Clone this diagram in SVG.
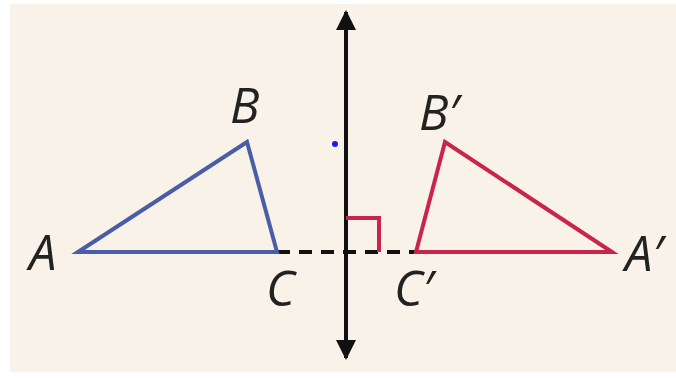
<svg xmlns="http://www.w3.org/2000/svg" width="676" height="378" viewBox="0 0 676 378">
<style>
.lbl{font-family:"Open Sans","Liberation Sans",sans-serif;font-style:italic;font-weight:500;font-size:49px;fill:#222}
.blue{fill:none;stroke:#4a5ea8;stroke-width:4;stroke-linejoin:miter}
.red{fill:none;stroke:#c8244c;stroke-width:4;stroke-linejoin:miter}
</style>
<defs>
<marker id="arr" viewBox="0 0 10 10" refX="9" refY="5" markerWidth="5" markerHeight="6" orient="auto" markerUnits="strokeWidth">
<path d="M0,0 L10,5 L0,10 Z" fill="#111"/>
</marker>
</defs>
<rect width="676" height="378" fill="#ffffff"/>
<rect x="10" y="4" width="666" height="368" fill="#f8f2e8"/>
<g id="connectors">
<line x1="277" y1="252" x2="416" y2="252" stroke="#111" stroke-width="4" stroke-dasharray="13,9"/>
<line x1="346" y1="190" x2="346" y2="12" stroke="#111" stroke-width="4" marker-end="url(#arr)"/>
<line x1="346" y1="190" x2="346" y2="358" stroke="#111" stroke-width="4" marker-end="url(#arr)"/>
</g>
<g id="right-angle"><polyline class="red" points="346,218 379,218 379,252"/></g>
<g id="triangle-ABC"><polygon class="blue" points="78,252 247,142 277,252"/></g>
<g id="triangle-A1B1C1"><polygon class="red" points="612,252 445,142 416,252"/></g>
<g id="dot"><circle cx="335" cy="144" r="3" fill="#1a1aee"/></g>
<g id="labels">
<text class="lbl" x="29" y="270">A</text>
<text class="lbl" x="230" y="123">B</text>
<text class="lbl" x="266" y="306">C</text>
<text class="lbl" x="419" y="130">B′</text>
<text class="lbl" x="394" y="306">C′</text>
<text class="lbl" x="625" y="271">A′</text>
</g>
</svg>
